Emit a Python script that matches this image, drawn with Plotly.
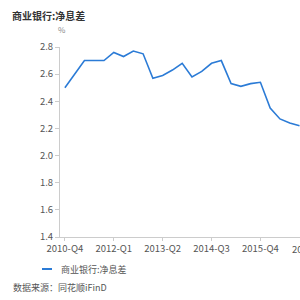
import plotly.graph_objects as go

quarters = ["2010-Q4", "2011-Q1", "2011-Q2", "2011-Q3", "2011-Q4",
            "2012-Q1", "2012-Q2", "2012-Q3", "2012-Q4",
            "2013-Q1", "2013-Q2", "2013-Q3", "2013-Q4",
            "2014-Q1", "2014-Q2", "2014-Q3", "2014-Q4",
            "2015-Q1", "2015-Q2", "2015-Q3", "2015-Q4",
            "2016-Q1", "2016-Q2", "2016-Q3", "2016-Q4"]
nim = [2.50, 2.60, 2.70, 2.70, 2.70,
       2.76, 2.73, 2.77, 2.75,
       2.57, 2.59, 2.63, 2.68,
       2.58, 2.62, 2.68, 2.70,
       2.53, 2.51, 2.53, 2.54,
       2.35, 2.27, 2.24, 2.22]
series_name = "商业银行:净息差"
title_text = "商业银行:净息差"
unit_text = "%"
source_text = "数据来源：同花顺iFinD"
next_label = "2017-Q1"
y_ticks = [1.4, 1.6, 1.8, 2.0, 2.2, 2.4, 2.6, 2.8]

FONT = "Noto Sans CJK SC, Noto Sans, sans-serif"
LINE_COLOR = "#2b7bd6"
AXIS_COLOR = "#cccccc"
TEXT_COLOR = "#555555"

fig = go.Figure()
fig.add_trace(go.Scatter(
    x=list(range(len(quarters))), y=nim, mode="lines", name=series_name,
    line=dict(color=LINE_COLOR, width=1.6), showlegend=False,
    hoverinfo="skip", cliponaxis=False,
))

fig.update_layout(
    width=300, height=300,
    margin=dict(l=60, r=0, t=47, b=63),
    paper_bgcolor="white", plot_bgcolor="white",
    font=dict(family=FONT, size=10, color=TEXT_COLOR),
    xaxis=dict(
        range=[-0.5, 24.05], tickmode="array",
        tickvals=list(range(0, len(quarters), 5)),
        ticktext=quarters[::5],
        showgrid=False, zeroline=False,
        showline=True, linecolor=AXIS_COLOR, linewidth=1,
        ticks="outside", ticklen=3, tickcolor=AXIS_COLOR,
        tickfont=dict(size=9.5, color=TEXT_COLOR), ticklabelstandoff=0,
    ),
    yaxis=dict(
        range=[1.4, 2.8], tickmode="array", tickvals=y_ticks,
        ticktext=[f"{v:.1f}" for v in y_ticks],
        showgrid=False, zeroline=False,
        showline=True, linecolor=AXIS_COLOR, linewidth=1,
        ticks="outside", ticklen=4, tickcolor=AXIS_COLOR,
        tickfont=dict(size=9.5, color=TEXT_COLOR),
    ),
)

annotations = [
    dict(text="<b>" + title_text + "</b>", xref="paper", yref="paper",
         x=(10 - 60) / 240, y=1 + (47 - 16) / 190, xanchor="left", yanchor="middle",
         showarrow=False, font=dict(size=10, color="#333333")),
    dict(text=unit_text, xref="paper", yref="paper",
         x=(62 - 60) / 240, y=1 + (47 - 30) / 190, xanchor="center", yanchor="middle",
         showarrow=False, font=dict(size=8, color="#888888")),
    dict(text=next_label, xref="paper", yref="paper",
         x=(310.2 - 60) / 240, y=0, yshift=-3, xanchor="center", yanchor="top",
         showarrow=False, font=dict(size=9.5, color=TEXT_COLOR)),
    dict(text=series_name, xref="paper", yref="paper",
         x=(59 - 60) / 240, y=-(269 - 237) / 190, xanchor="left", yanchor="middle",
         showarrow=False, font=dict(size=9, color=TEXT_COLOR)),
    dict(text=source_text, xref="paper", yref="paper",
         x=(11 - 60) / 240, y=-(287 - 237) / 190, xanchor="left", yanchor="middle",
         showarrow=False, font=dict(size=9, color=TEXT_COLOR)),
]
fig.update_layout(annotations=annotations)
fig.add_shape(type="line", xref="paper", yref="paper",
              x0=(42 - 60) / 240, x1=(52 - 60) / 240,
              y0=-(269 - 237) / 190, y1=-(269 - 237) / 190,
              line=dict(color=LINE_COLOR, width=2))

fig.write_html("out.html")
